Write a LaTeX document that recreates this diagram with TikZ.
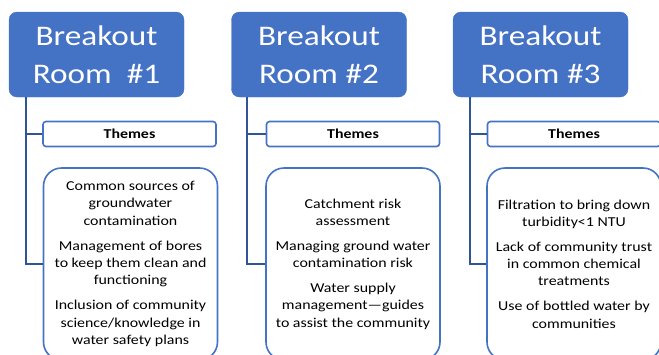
\documentclass[tikz,border=0pt]{standalone}
\usepackage{fontspec}
\setmainfont{Carlito}[FakeStretch=1.17]
\usetikzlibrary{positioning}

\definecolor{roomblue}{HTML}{4472C4}
\definecolor{linkblue}{HTML}{2F5597}

\begin{document}
\begin{tikzpicture}
      [
        x=1pt, y=-1pt,
        roombox/.style={fill=roomblue, draw=roomblue, rounded corners=8pt,
          minimum width=175pt, minimum height=85pt, inner sep=0pt,
          text=white, align=center, font=\fontsize{28.4}{38}\selectfont},
        themebox/.style={draw=roomblue, fill=white, line width=1.6pt,
          rounded corners=3pt, minimum width=173pt, minimum height=25pt,
          inner sep=0pt, font=\bfseries\fontsize{13.6}{16}\selectfont},
        itembox/.style={draw=roomblue, fill=white, line width=1.6pt,
          rounded corners=18pt, minimum width=174pt, minimum height=192pt,
          inner sep=0pt, align=center, font=\fontsize{13.6}{17.3}\selectfont},
        linkstyle/.style={draw=linkblue, line width=2pt}
      ]

      \useasboundingbox (0,0) rectangle (659,354);
      \clip (0,0) rectangle (659,354);

      % room 1
      \node[roombox] (room1) at (96.5,54.5) {Breakout\\Room\ \ \#1};
      \node[themebox] (themes1) at (129.5,134) {Themes};
      \node[itembox] (items1) at (130.5,264) {Common sources of\\groundwater\\contamination\\[7.7pt]
        Management of bores\\to keep them clean and\\functioning\\[7.7pt]
        Inclusion of community\\science/knowledge in\\water safety plans};
      \draw[linkstyle] ([xshift=17pt]room1.south west) |- (themes1.west);
      \draw[linkstyle] ([xshift=17pt]room1.south west) |- (items1.west);

      % room 2
      \node[roombox] (room2) at (319,54.5) {Breakout\\Room \#2};
      \node[themebox] (themes2) at (353,134) {Themes};
      \node[itembox] (items2) at (353,264) {Catchment risk\\assessment\\[7.7pt]
        Managing ground water\\contamination risk\\[7.7pt]
        Water supply\\management---guides\\to assist the community};
      \draw[linkstyle] ([xshift=16pt]room2.south west) |- (themes2.west);
      \draw[linkstyle] ([xshift=16pt]room2.south west) |- (items2.west);

      % room 3
      \node[roombox] (room3) at (540.5,54.5) {Breakout\\Room \#3};
      \node[themebox] (themes3) at (574,134) {Themes};
      \node[itembox] (items3) at (574,264) {Filtration to bring down\\turbidity<1 NTU\\[7.7pt]
        Lack of community trust\\in common chemical\\treatments\\[7.7pt]
        Use of bottled water by\\communities};
      \draw[linkstyle] ([xshift=17pt]room3.south west) |- (themes3.west);
      \draw[linkstyle] ([xshift=17pt]room3.south west) |- (items3.west);

    \end{tikzpicture}
\end{document}
